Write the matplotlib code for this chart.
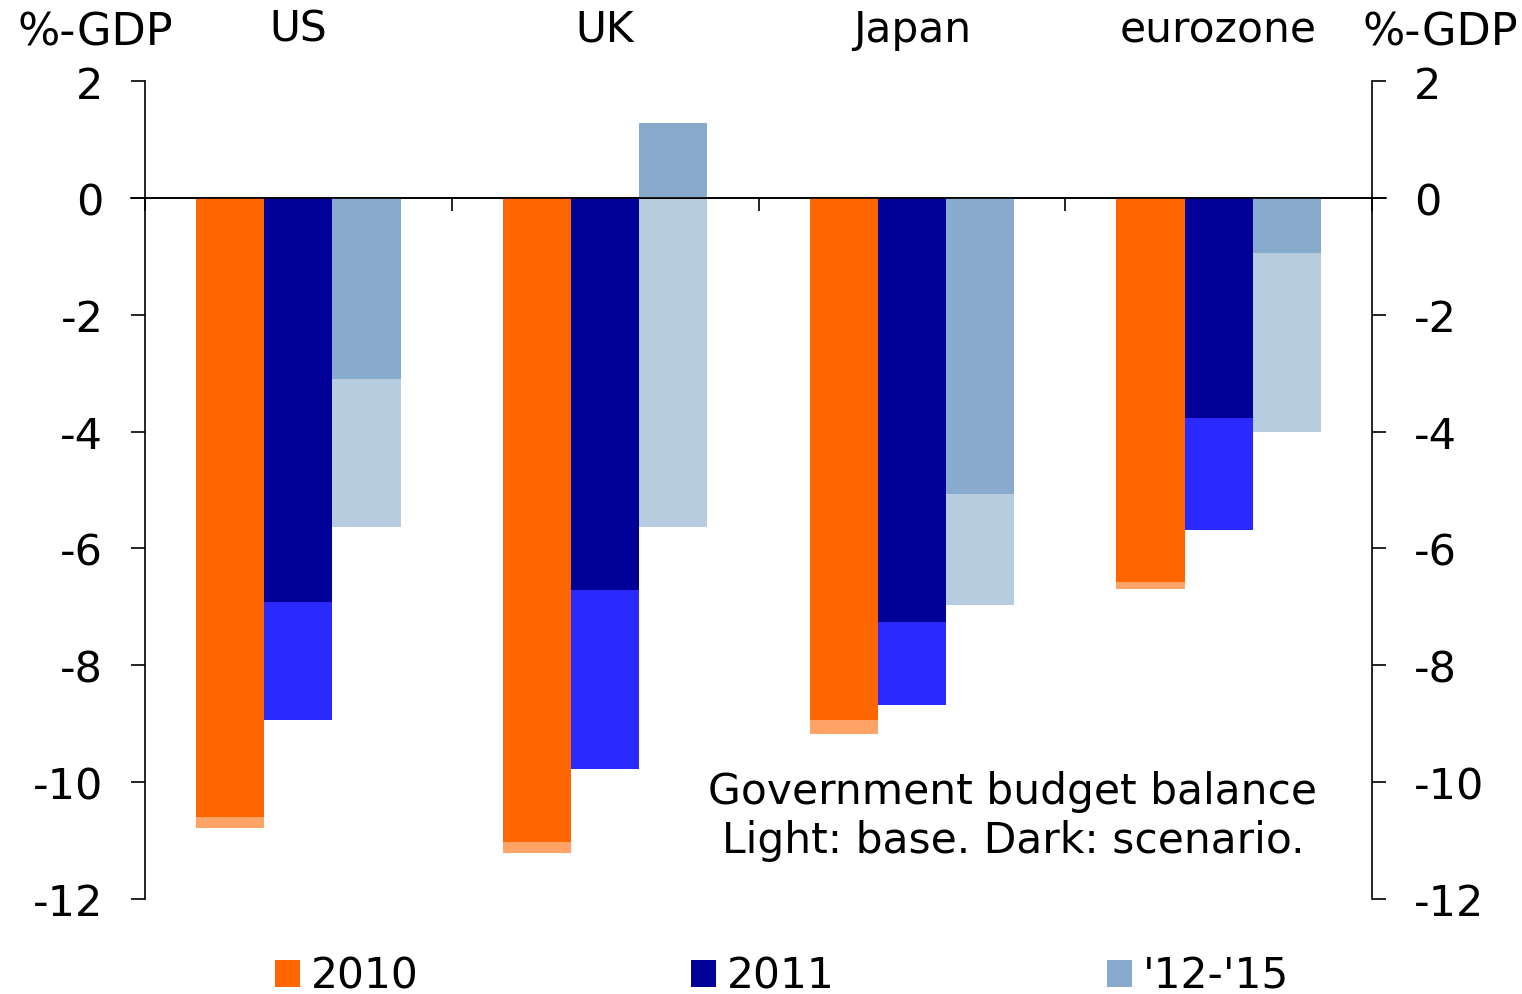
import numpy as np
import matplotlib
matplotlib.use("Agg")
import matplotlib.pyplot as plt

plt.rcParams['font.family'] = ['DejaVu Sans']
plt.rcParams['axes.unicode_minus'] = False

# data (%-GDP), base = light, scenario = dark
regions = ['US', 'UK', 'Japan', 'eurozone']
series = ['2010', '2011', "'12-'15"]
base_2010 = [-10.78, -11.22, -9.18, -6.70]
scen_2010 = [-10.60, -11.03, -8.94, -6.58]
base_2011 = [-8.93, -9.78, -8.68, -5.68]
scen_2011 = [-6.92, -6.72, -7.26, -3.76]
base_1215 = [-5.64, -5.64, -6.96, -4.00]
scen_1215 = [-3.10, 1.28, -5.06, -0.94]

dark_cols = ['#FF6600', '#000099', '#88AACC']
light_cols = ['#FFA366', '#2A2AFF', '#B8CCE0']

fig = plt.figure(figsize=(15.22, 9.95), dpi=100)
ax = fig.add_axes([145/1522, 1 - 900/995, 1227/1522, 818/995])

x = np.arange(len(regions))
w = 0.222
offs = [-w, 0, w]
bases = [base_2010, base_2011, base_1215]
scens = [scen_2010, scen_2011, scen_1215]
handles = []
for k in range(3):
    ax.bar(x + offs[k], bases[k], w, color=light_cols[k], zorder=2)
    h = ax.bar(x + offs[k], scens[k], w, color=dark_cols[k], zorder=3)
    handles.append(h)

ax.set_xlim(-0.5, 3.5)
ax.set_ylim(-12, 2)
ax.set_yticks(np.arange(-12, 3, 2))
ax.tick_params(axis='y', which='both', direction='out', length=10, width=1.2,
               labelsize=31, pad=20, right=True, labelright=True)

# zero line with category separators
ax.spines['top'].set_visible(False)
ax.spines['bottom'].set_position(('data', 0))
ax.spines['bottom'].set_linewidth(1.2)
ax.spines['left'].set_linewidth(1.2)
ax.spines['right'].set_linewidth(1.2)
ax.set_xticks(np.arange(-0.5, 4, 1))
ax.set_xticklabels([])
ax.tick_params(axis='x', direction='out', length=9, width=1.2)
ext = 14 / 306.75
ax.plot([-0.5 - ext, 3.5 + ext], [0, 0], color='black', lw=1.2, clip_on=False, zorder=4)

for i, r in enumerate(regions):
    ax.text(i, 1.064, r, transform=ax.get_xaxis_transform(), ha='center', va='center',
            fontsize=30.5)

fig.text(95/1522, 1 - 33/995, '%-GDP', ha='center', va='center', fontsize=32)
fig.text(1440/1522, 1 - 33/995, '%-GDP', ha='center', va='center', fontsize=32)

ax.text(0.7074, 0.102, 'Government budget balance\nLight: base. Dark: scenario.',
        transform=ax.transAxes, ha='center', va='center', fontsize=30.5, linespacing=1.2)

fig.legend(handles, series, loc='center left', bbox_to_anchor=(275/1522, 1 - 977/995),
           ncol=3, frameon=False, fontsize=30.5, handlelength=0.6, handleheight=0.6,
           handletextpad=0.25, columnspacing=6.42, borderpad=0, borderaxespad=0)

fig.savefig('out.png', dpi=100)
